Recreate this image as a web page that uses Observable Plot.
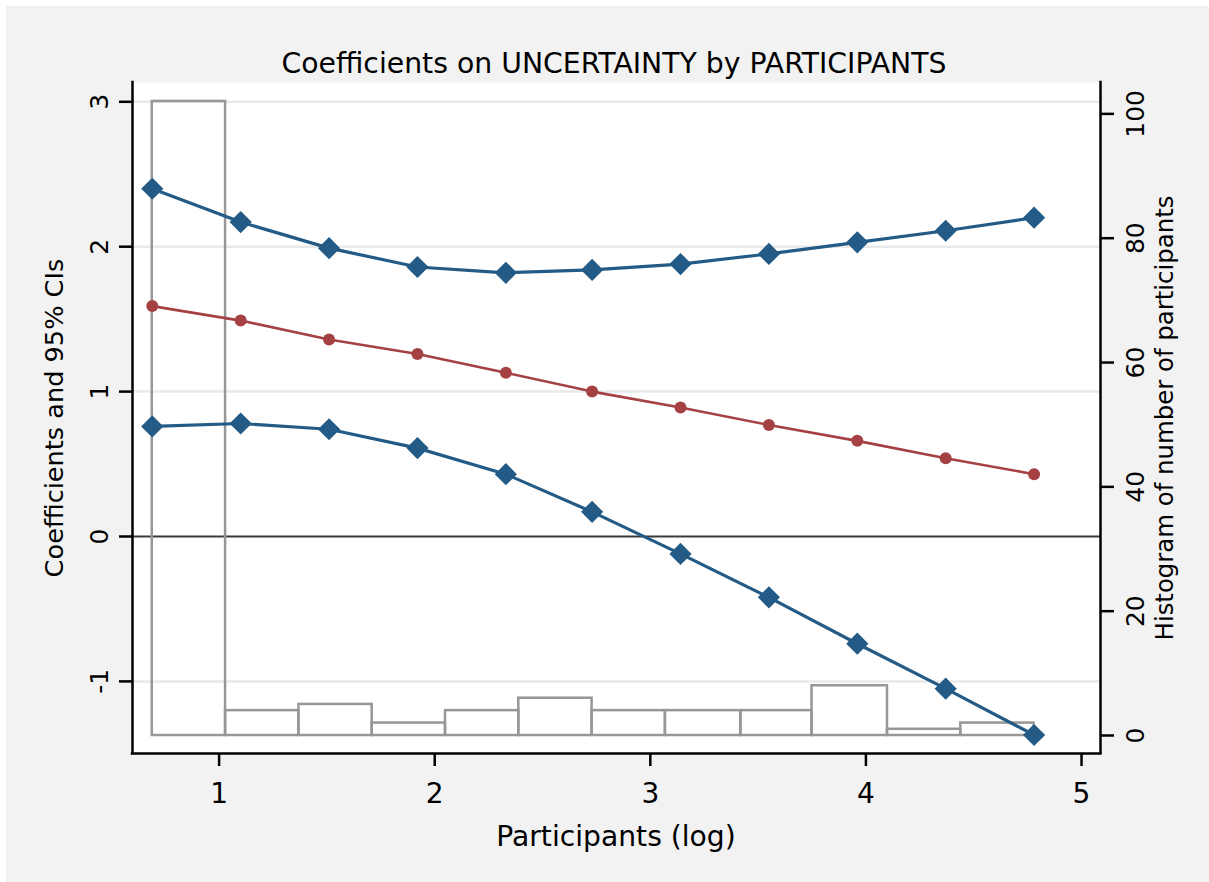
<!DOCTYPE html>
<html><head><meta charset="utf-8">
<script src="https://cdn.jsdelivr.net/npm/d3@7"></script>
<script src="https://cdn.jsdelivr.net/npm/@observablehq/plot@0.6"></script>
<style>
html,body{margin:0;padding:0;background:#fff;}
#panel{position:absolute;left:6px;top:6px;width:1203px;height:876px;background:#f2f2f2;overflow:hidden;}
#panel svg{position:absolute;left:0;top:0;}
</style></head><body><div id="panel"></div>
<script>
// ---- data ----
const xLog    = [0.69, 1.10, 1.51, 1.92, 2.33, 2.73, 3.14, 3.55, 3.96, 4.37, 4.78];
const upperCI = [2.40, 2.17, 1.99, 1.86, 1.82, 1.84, 1.88, 1.95, 2.03, 2.11, 2.20];
const coef    = [1.59, 1.49, 1.36, 1.26, 1.13, 1.00, 0.89, 0.77, 0.66, 0.54, 0.43];
const lowerCI = [0.76, 0.78, 0.74, 0.61, 0.43, 0.17, -0.12, -0.42, -0.74, -1.05, -1.37];
const binEdges  = [0.69, 1.03, 1.37, 1.71, 2.05, 2.39, 2.73, 3.07, 3.42, 3.75, 4.10, 4.44, 4.78];
const binCounts = [102, 4, 5, 2, 4, 6, 4, 4, 4, 8, 1, 2];
const xTicks     = [1, 2, 3, 4, 5];
const leftTicks  = [-1, 0, 1, 2, 3];
const rightTicks = [0, 20, 40, 60, 80, 100];
const titleText  = "Coefficients on UNCERTAINTY by PARTICIPANTS";
const xTitle     = "Participants (log)";
const yLeftTitle = "Coefficients and 95% CIs";
const yRightTitle= "Histogram of number of participants";

// ---- layout ----
const W = 1203, H = 876;
const M = {marginLeft: 126, marginRight: 109, marginTop: 76, marginBottom: 129};
const xDomain = [0.5983, 5.088];
const yLeftDomain = [-1.4976, 3.1332];
const yRightDomain = [-2.896, 105.05];
const FONT = "'DejaVu Sans', sans-serif";
const style = {background: "transparent", fontFamily: FONT, overflow: "visible", color: "black"};
const blue = "#235b86", red = "#a54142", histGray = "#979797";

const pts = xLog.map((x, i) => ({x, upper: upperCI[i], coef: coef[i], lower: lowerCI[i]}));
const bins = binCounts.map((c, i) => ({x1: binEdges[i], x2: binEdges[i + 1], count: c}));

const panel = document.getElementById("panel");

// layer 0: plot region, grid, zero line
panel.appendChild(Plot.plot({
  width: W, height: H, ...M, style,
  x: {domain: xDomain, axis: null},
  y: {domain: yLeftDomain, axis: null},
  marks: [
    Plot.frame({fill: "white", stroke: "none"}),
    Plot.gridY(leftTicks.filter(d => d !== 0), {stroke: "#e9e9e9", strokeOpacity: 1, strokeWidth: 2.5}),
    Plot.ruleY([0], {stroke: "#3a3a3a", strokeWidth: 2})
  ]
}));

// layer 1: histogram with right axis
panel.appendChild(Plot.plot({
  width: W, height: H, ...M, style,
  x: {domain: xDomain, axis: null},
  y: {domain: yRightDomain, axis: null},
  marks: [
    Plot.rect(bins, {x1: "x1", x2: "x2", y1: d => 0, y2: "count", fill: "none", stroke: histGray, strokeWidth: 2.5}),
    Plot.axisY(rightTicks, {anchor: "right", tickSize: 13, tickPadding: 13, tickRotate: -90, lineAnchor: "top",
      fontSize: 25, strokeWidth: 2.5, stroke: "black", fill: "black", label: null, tickFormat: d => String(d)})
  ]
}));

// layer 2: coefficient lines, axes
panel.appendChild(Plot.plot({
  width: W, height: H, ...M, style,
  x: {domain: xDomain, axis: null},
  y: {domain: yLeftDomain, axis: null},
  marks: [
    Plot.line(pts, {x: "x", y: "upper", stroke: blue, strokeWidth: 3.2}),
    Plot.dot(pts, {x: "x", y: "upper", symbol: "diamond2", r: 10, fill: blue}),
    Plot.line(pts, {x: "x", y: "coef", stroke: red, strokeWidth: 2.6}),
    Plot.dot(pts, {x: "x", y: "coef", r: 6, fill: red}),
    Plot.line(pts, {x: "x", y: "lower", stroke: blue, strokeWidth: 3.2}),
    Plot.dot(pts, {x: "x", y: "lower", symbol: "diamond2", r: 10, fill: blue}),
    Plot.ruleX([xDomain[0]], {stroke: "black", strokeWidth: 2.5, strokeLinecap: "square"}),
    Plot.ruleX([xDomain[1]], {stroke: "black", strokeWidth: 2.5, strokeLinecap: "square"}),
    Plot.ruleY([yLeftDomain[0]], {stroke: "black", strokeWidth: 2.5, strokeLinecap: "square"}),
    Plot.axisY(leftTicks, {anchor: "left", tickSize: 13, tickPadding: 12, tickRotate: -90,
      fontSize: 25, strokeWidth: 2.5, stroke: "black", fill: "black", label: null, tickFormat: d => String(d)}),
    Plot.axisX(xTicks, {anchor: "bottom", tickSize: 13, tickPadding: 17,
      fontSize: 28, strokeWidth: 2.5, stroke: "black", fill: "black", label: null, tickFormat: d => String(d)})
  ]
}));

// titles
const ns = "http://www.w3.org/2000/svg";
const tsvg = document.createElementNS(ns, "svg");
tsvg.setAttribute("width", W); tsvg.setAttribute("height", H);
tsvg.style.fontFamily = FONT;
function addText(txt, x, y, size, rot) {
  const t = document.createElementNS(ns, "text");
  t.setAttribute("text-anchor", "middle");
  t.setAttribute("font-size", size);
  t.setAttribute("fill", "black");
  t.setAttribute("transform", `translate(${x},${y})` + (rot ? ` rotate(${rot})` : ""));
  t.textContent = txt;
  tsvg.appendChild(t);
}
addText(titleText, 608, 67, 28.3, 0);
addText(xTitle, 610, 840, 28.2, 0);
addText(yLeftTitle, 57, 412, 25.6, -90);
addText(yRightTitle, 1167, 412, 24.4, -90);
panel.appendChild(tsvg);
</script></body></html>
